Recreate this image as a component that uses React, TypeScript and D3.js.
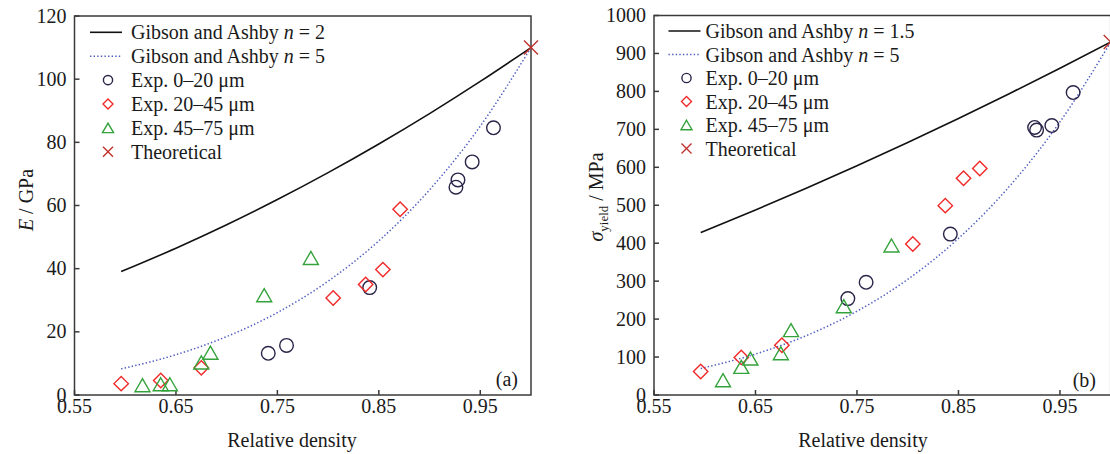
import React from "react";
import * as d3 from "d3";

// ---------- Data ----------
const xTicks = [0.55, 0.65, 0.75, 0.85, 0.95];
const yTicksE = [0, 20, 40, 60, 80, 100, 120];
const yTicksS = [0, 100, 200, 300, 400, 500, 600, 700, 800, 900, 1000];

// model curves (sampled points)
const curveRho = [0.596, 0.65, 0.7, 0.75, 0.8, 0.85, 0.9, 0.95, 1.0];
const eN2 = [39.07, 46.48, 53.9, 61.88, 70.4, 79.48, 89.1, 99.28, 110];
const eN5 = [8.27, 12.76, 18.49, 26.1, 36.04, 48.81, 64.95, 85.12, 110];
const sN15 = [427.9, 487.4, 544.7, 604.0, 665.4, 728.8, 794.0, 861.1, 930];
const sN5 = [69.94, 107.9, 156.3, 220.7, 304.7, 412.6, 549.2, 719.6, 930];

// panel (a) experimental
const aCircRho = [0.741, 0.759, 0.841, 0.926, 0.928, 0.942, 0.963];
const aCircE = [13.2, 15.7, 34.0, 65.8, 68.1, 73.8, 84.6];
const aDiaRho = [0.596, 0.635, 0.675, 0.805, 0.837, 0.854, 0.871];
const aDiaE = [3.6, 4.6, 8.6, 30.7, 35.0, 39.7, 58.8];
const aTriRho = [0.617, 0.635, 0.644, 0.675, 0.684, 0.737, 0.783];
const aTriE = [3.1, 3.4, 3.4, 10.3, 13.4, 31.6, 43.4];

// panel (b) experimental
const bCircRho = [0.741, 0.759, 0.842, 0.925, 0.927, 0.942, 0.963];
const bCircS = [254, 297, 424, 705, 698, 710, 797];
const bDiaRho = [0.596, 0.636, 0.676, 0.805, 0.837, 0.855, 0.871];
const bDiaS = [62, 99, 131, 398, 499, 571, 597];
const bTriRho = [0.618, 0.636, 0.645, 0.675, 0.685, 0.737, 0.784];
const bTriS = [39, 74, 96, 110, 171, 234, 394];

const theoRho = [1.0];
const theoE = [110];
const theoS = [930];

// ---------- Styles ----------
const FONT =
  "'Liberation Serif', 'Times New Roman', Times, Tinos, 'DejaVu Serif', serif";
const FS = 20;
const TXT = "#1a1a1a";
const AXIS = "#3a3a3a";
const C_BLACK = "#111111";
const C_BLUE = "#4d5cc0";
const C_CIRC = "#2a2448";
const C_RED = "#f02828";
const C_GREEN = "#34a23a";
const C_X = "#c0302a";

const txtStyle: React.CSSProperties = { fontFamily: FONT, fontSize: FS, fill: TXT };

type Pt = [number, number];

function zip(a: number[], b: number[]): Pt[] {
  return a.map((v, i) => [v, b[i]] as Pt);
}

function Circle({ x, y, r }: { x: number; y: number; r: number }) {
  return <circle cx={x} cy={y} r={r} fill="none" stroke={C_CIRC} strokeWidth={1.4} />;
}
function Diamond({ x, y, s }: { x: number; y: number; s: number }) {
  return (
    <path
      d={`M${x},${y - s}L${x + s},${y}L${x},${y + s}L${x - s},${y}Z`}
      fill="none"
      stroke={C_RED}
      strokeWidth={1.4}
    />
  );
}
function Tri({ x, y, w, h }: { x: number; y: number; w: number; h: number }) {
  return (
    <path
      d={`M${x},${y - h / 2}L${x + w / 2},${y + h / 2}L${x - w / 2},${y + h / 2}Z`}
      fill="none"
      stroke={C_GREEN}
      strokeWidth={1.4}
    />
  );
}
function Cross({ x, y, s }: { x: number; y: number; s: number }) {
  return (
    <path
      d={`M${x - s},${y - s}L${x + s},${y + s}M${x - s},${y + s}L${x + s},${y - s}`}
      fill="none"
      stroke={C_X}
      strokeWidth={1.4}
    />
  );
}

interface PanelProps {
  x0: number;
  x1: number;
  y0: number;
  y1: number;
  yMax: number;
  yTicks: number[];
  solid: number[];
  dotted: number[];
  circ: Pt[];
  dia: Pt[];
  tri: Pt[];
  theo: Pt[];
  legendLineX: number;
  legendTextX: number;
  legendY0: number;
  legendDy: number;
  nSolid: string;
  tag: string;
  tagX: number;
  tagY: number;
  xLabelX: number;
  yLabel: React.ReactNode;
}

function Panel(p: PanelProps) {
  const x = d3.scaleLinear().domain([0.55, 1.0]).range([p.x0, p.x1]);
  const y = d3.scaleLinear().domain([0, p.yMax]).range([p.y1, p.y0]);
  const line = d3
    .line<Pt>()
    .x((d) => x(d[0]))
    .y((d) => y(d[1]))
    .curve(d3.curveMonotoneX);
  const solidPath = line(zip(curveRho, p.solid)) || "";
  const dottedPath = line(zip(curveRho, p.dotted)) || "";
  const lx = p.legendLineX;
  const mx = lx + 18;
  const rows = [0, 1, 2, 3, 4, 5].map((i) => p.legendY0 + i * p.legendDy);
  const legendTexts: React.ReactNode[] = [
    <>Gibson and Ashby <tspan fontStyle="italic">n</tspan> = {p.nSolid}</>,
    <>Gibson and Ashby <tspan fontStyle="italic">n</tspan> = 5</>,
    <>Exp. 0–20 μm</>,
    <>Exp. 20–45 μm</>,
    <>Exp. 45–75 μm</>,
    <>Theoretical</>,
  ];
  return (
    <g>
      {/* frame */}
      <rect
        x={p.x0}
        y={p.y0}
        width={p.x1 - p.x0}
        height={p.y1 - p.y0}
        fill="none"
        stroke={AXIS}
        strokeWidth={1.5}
      />
      {/* x ticks */}
      {xTicks.map((t) => (
        <g key={"xt" + t}>
          <line x1={x(t)} x2={x(t)} y1={p.y1} y2={p.y1 - 5} stroke={AXIS} strokeWidth={1.5} />
          <text x={x(t)} y={p.y1 + 18} textAnchor="middle" style={txtStyle}>
            {t.toFixed(2)}
          </text>
        </g>
      ))}
      {/* y ticks */}
      {p.yTicks.map((t) => (
        <g key={"yt" + t}>
          <line x1={p.x0} x2={p.x0 + 5} y1={y(t)} y2={y(t)} stroke={AXIS} strokeWidth={1.5} />
          <text x={p.x0 - 8} y={y(t) + 6.5} textAnchor="end" style={txtStyle}>
            {t}
          </text>
        </g>
      ))}
      {/* curves */}
      <path d={solidPath} fill="none" stroke={C_BLACK} strokeWidth={1.6} />
      <path d={dottedPath} fill="none" stroke={C_BLUE} strokeWidth={1.5} strokeDasharray="1.4 2.2" />
      {/* points */}
      {p.circ.map((d, i) => (
        <Circle key={"c" + i} x={x(d[0])} y={y(d[1])} r={6.8} />
      ))}
      {p.dia.map((d, i) => (
        <Diamond key={"d" + i} x={x(d[0])} y={y(d[1])} s={7.2} />
      ))}
      {p.tri.map((d, i) => (
        <Tri key={"t" + i} x={x(d[0])} y={y(d[1])} w={15} h={13} />
      ))}
      {p.theo.map((d, i) => (
        <Cross key={"x" + i} x={x(d[0])} y={y(d[1])} s={7} />
      ))}
      {/* legend */}
      <line x1={lx} x2={lx + 32} y1={rows[0]} y2={rows[0]} stroke={C_BLACK} strokeWidth={1.6} />
      <line
        x1={lx}
        x2={lx + 32}
        y1={rows[1]}
        y2={rows[1]}
        stroke={C_BLUE}
        strokeWidth={1.5}
        strokeDasharray="1.4 2.2"
      />
      <Circle x={mx} y={rows[2]} r={4.6} />
      <Diamond x={mx} y={rows[3]} s={5} />
      <Tri x={mx} y={rows[4]} w={11} h={9.5} />
      <Cross x={mx} y={rows[5]} s={5} />
      {legendTexts.map((t, i) => (
        <text key={"lt" + i} x={p.legendTextX} y={rows[i] + 7} style={txtStyle}>
          {t}
        </text>
      ))}
      {/* tag */}
      <text x={p.tagX} y={p.tagY} textAnchor="end" style={txtStyle}>
        {p.tag}
      </text>
      {/* axis labels */}
      <text x={p.xLabelX} y={447} textAnchor="middle" style={txtStyle}>
        Relative density
      </text>
      {p.yLabel}
    </g>
  );
}

export default function App() {
  return (
    <svg
      width={1110}
      height={454}
      viewBox="0 0 1110 454"
      style={{ position: "absolute", left: 0, top: 0, background: "#fff" }}
    >
      <rect width={1110} height={454} fill="#fff" />
      <Panel
        x0={74.5}
        x1={531}
        y0={16}
        y1={395}
        yMax={120}
        yTicks={yTicksE}
        solid={eN2}
        dotted={eN5}
        circ={zip(aCircRho, aCircE)}
        dia={zip(aDiaRho, aDiaE)}
        tri={zip(aTriRho, aTriE)}
        theo={zip(theoRho, theoE)}
        legendLineX={90}
        legendTextX={131}
        legendY0={32.3}
        legendDy={23.9}
        nSolid="2"
        tag="(a)"
        tagX={518}
        tagY={386}
        xLabelX={292}
        yLabel={
          <text transform="translate(33,200) rotate(-90)" textAnchor="middle" style={txtStyle}>
            <tspan fontStyle="italic">E</tspan> / GPa
          </text>
        }
      />
      <Panel
        x0={654}
        x1={1110.7}
        y0={15.5}
        y1={395}
        yMax={1000}
        yTicks={yTicksS}
        solid={sN15}
        dotted={sN5}
        circ={zip(bCircRho, bCircS)}
        dia={zip(bDiaRho, bDiaS)}
        tri={zip(bTriRho, bTriS)}
        theo={zip(theoRho, theoS)}
        legendLineX={668.5}
        legendTextX={705.5}
        legendY0={31}
        legendDy={23.5}
        nSolid="1.5"
        tag="(b)"
        tagX={1096}
        tagY={387}
        xLabelX={863}
        yLabel={
          <text transform="translate(603,197) rotate(-90)" textAnchor="middle" style={txtStyle}>
            <tspan fontStyle="italic">σ</tspan>
            <tspan style={{ fontSize: 13 }} dy={5}>
              yield
            </tspan>
            <tspan dy={-5}> / MPa</tspan>
          </text>
        }
      />
    </svg>
  );
}
